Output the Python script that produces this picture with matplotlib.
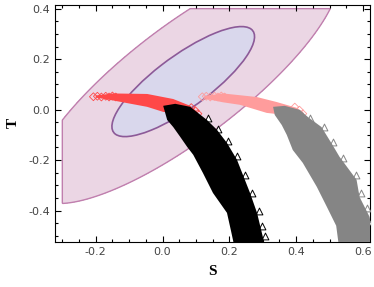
import matplotlib
matplotlib.use('Agg')
import matplotlib.pyplot as plt
import numpy as np
from matplotlib.patches import Ellipse
from matplotlib.ticker import MultipleLocator, FormatStrFormatter

# outer (pink) contour: points read along its boundary, clipped to S >= -0.3, T <= 0.4
OUTER_S = [-0.30, -0.221, -0.119, 0.075, 0.50, 0.433, 0.322, 0.224, 0.069, -0.021, -0.119, -0.221, -0.30]
OUTER_T = [-0.036, 0.079, 0.186, 0.40, 0.40, 0.265, 0.107, -0.028, -0.15, -0.23, -0.305, -0.349, -0.376]
OUTER_CLIP_S = -0.30
OUTER_CLIP_T = 0.40

# inner (blue) ellipse: centre and covariance-like shape matrix
INNER_CENTER = (0.062, 0.111)
INNER_SHAPE = [[0.0456, 0.038], [0.038, 0.0475]]

# red diamonds band (outline: upper edge left->right, then lower edge right->left)
RED_S = [-0.200, -0.147, -0.046, 0.032, 0.083, 0.104, 0.113, 0.053, 0.002, -0.046, -0.147, -0.200]
RED_T = [0.056, 0.064, 0.062, 0.042, 0.015, -0.009, -0.033, -0.017, -0.009, 0.011, 0.036, 0.048]
RED_PTS_S = [-0.207, -0.195, -0.183, -0.170, -0.160, -0.150, -0.140, 0.086, 0.098, 0.106]
RED_PTS_T = [0.051, 0.053, 0.050, 0.053, 0.050, 0.054, 0.050, 0.008, -0.004, -0.016]

# light pink diamonds band
PINK_S = [0.125, 0.181, 0.282, 0.342, 0.402, 0.423, 0.426, 0.366, 0.312, 0.232, 0.181, 0.125]
PINK_T = [0.054, 0.064, 0.050, 0.030, 0.007, -0.013, -0.033, -0.021, -0.013, 0.019, 0.029, 0.044]
PINK_PTS_S = [0.119, 0.131, 0.143, 0.156, 0.166, 0.176, 0.186, 0.396, 0.410, 0.420]
PINK_PTS_T = [0.051, 0.053, 0.050, 0.053, 0.050, 0.054, 0.050, 0.010, -0.002, -0.016]

# black triangles band (left edge top->bottom, right edge bottom->top)
BLACK_S = [0.002, 0.014, 0.032, 0.053, 0.074, 0.092, 0.121, 0.151, 0.193, 0.205, 0.218,
           0.310, 0.304, 0.283, 0.262, 0.223, 0.193, 0.163, 0.133, 0.083, 0.038]
BLACK_T = [0.015, -0.041, -0.069, -0.108, -0.148, -0.179, -0.251, -0.330, -0.409, -0.48, -0.56,
           -0.56, -0.524, -0.409, -0.330, -0.199, -0.132, -0.080, -0.041, 0.011, 0.023]
# open triangles sticking out of the black band's right edge
BLACK_PTS_S = [0.135, 0.166, 0.196, 0.224, 0.248, 0.269, 0.288, 0.299, 0.306]
BLACK_PTS_T = [-0.035, -0.075, -0.125, -0.185, -0.260, -0.330, -0.400, -0.460, -0.500]

# gray triangles band
GRAY_S = [0.331, 0.336, 0.357, 0.372, 0.390, 0.420, 0.462, 0.492, 0.520, 0.530,
          0.640, 0.634, 0.620, 0.590, 0.581, 0.530, 0.509, 0.476, 0.435, 0.411, 0.366]
GRAY_T = [0.011, -0.021, -0.061, -0.100, -0.160, -0.211, -0.306, -0.385, -0.46, -0.56,
          -0.56, -0.524, -0.425, -0.346, -0.278, -0.187, -0.140, -0.069, -0.029, -0.001, 0.015]
GRAY_PTS_S = [0.442, 0.483, 0.511, 0.539, 0.578, 0.595, 0.612, 0.627]
GRAY_PTS_T = [-0.035, -0.070, -0.130, -0.190, -0.260, -0.330, -0.390, -0.440]

X_LIM = (-0.322, 0.622)
Y_LIM = (-0.523, 0.416)

OUTER_FILL, OUTER_EDGE = '#ebd6e4', '#c07fae'
INNER_FILL, INNER_EDGE = '#d9d7ec', '#8c5a98'
RED, PINK, BLACK, GRAY = '#ff4848', '#ff9c9c', '#000000', '#858585'


def outer_region():
  """Fit a conic through the outer boundary points and return grid + clipped level function."""
  s = np.asarray(OUTER_S)
  t = np.asarray(OUTER_T)
  design = np.column_stack([s * s, s * t, t * t, s, t])
  coef, *_ = np.linalg.lstsq(design, np.ones_like(s), rcond=None)
  xs = np.linspace(-0.35, 0.70, 700)
  ys = np.linspace(-0.60, 0.45, 700)
  X, Y = np.meshgrid(xs, ys)
  F = coef[0] * X * X + coef[1] * X * Y + coef[2] * Y * Y + coef[3] * X + coef[4] * Y - 1.0
  G = np.maximum(F, np.maximum((OUTER_CLIP_S - X) * 10, (Y - OUTER_CLIP_T) * 10))
  return X, Y, G


def inner_ellipse():
  vals, vecs = np.linalg.eigh(np.asarray(INNER_SHAPE))
  angle = np.degrees(np.arctan2(vecs[1, 1], vecs[0, 1]))
  return Ellipse(INNER_CENTER, 2 * np.sqrt(vals[1]), 2 * np.sqrt(vals[0]), angle=angle,
                 facecolor=INNER_FILL, edgecolor=INNER_EDGE, linewidth=1.2, zorder=2)


fig, ax = plt.subplots(figsize=(3.74, 2.87), dpi=100)
fig.subplots_adjust(left=0.147, right=0.990, bottom=0.158, top=0.984)

X, Y, G = outer_region()
ax.contourf(X, Y, G, levels=[G.min() - 1, 0], colors=[OUTER_FILL], zorder=1)
ax.contour(X, Y, G, levels=[0], colors=[OUTER_EDGE], linewidths=1.0, zorder=1.5)
ax.add_patch(inner_ellipse())

ax.fill(RED_S, RED_T, color=RED, lw=0, zorder=3)
ax.scatter(RED_PTS_S, RED_PTS_T, marker='D', s=16, facecolors='none', edgecolors=RED, linewidths=0.6, zorder=3)
ax.fill(PINK_S, PINK_T, color=PINK, lw=0, zorder=3.2)
ax.scatter(PINK_PTS_S, PINK_PTS_T, marker='D', s=16, facecolors='none', edgecolors=PINK, linewidths=0.6, zorder=3.2)
ax.scatter(BLACK_PTS_S, BLACK_PTS_T, marker='^', s=24, facecolors='white', edgecolors=BLACK, linewidths=0.7, zorder=3.9)
ax.fill(BLACK_S, BLACK_T, color=BLACK, lw=0, zorder=4)
ax.scatter(GRAY_PTS_S, GRAY_PTS_T, marker='^', s=24, facecolors='white', edgecolors=GRAY, linewidths=0.7, zorder=4.9)
ax.fill(GRAY_S, GRAY_T, color=GRAY, lw=0, zorder=5)

ax.set_xlim(*X_LIM)
ax.set_ylim(*Y_LIM)
ax.xaxis.set_major_locator(MultipleLocator(0.2))
ax.yaxis.set_major_locator(MultipleLocator(0.2))
ax.xaxis.set_minor_locator(MultipleLocator(0.05))
ax.yaxis.set_minor_locator(MultipleLocator(0.05))
ax.xaxis.set_major_formatter(FormatStrFormatter('%.1f'))
ax.yaxis.set_major_formatter(FormatStrFormatter('%.1f'))
ax.tick_params(which='both', direction='in', top=True, right=True, labelsize=8, labelcolor='#444444', width=0.8)
ax.tick_params(which='major', length=4.5)
ax.tick_params(which='minor', length=2.5)
for spine in ax.spines.values():
  spine.set_linewidth(0.8)

ax.set_xlabel('S', family='Liberation Serif', fontweight='bold', fontsize=11, labelpad=6)
ax.set_ylabel('T', family='Liberation Serif', fontweight='bold', fontsize=11, labelpad=6)

fig.savefig('out.png', dpi=100)
